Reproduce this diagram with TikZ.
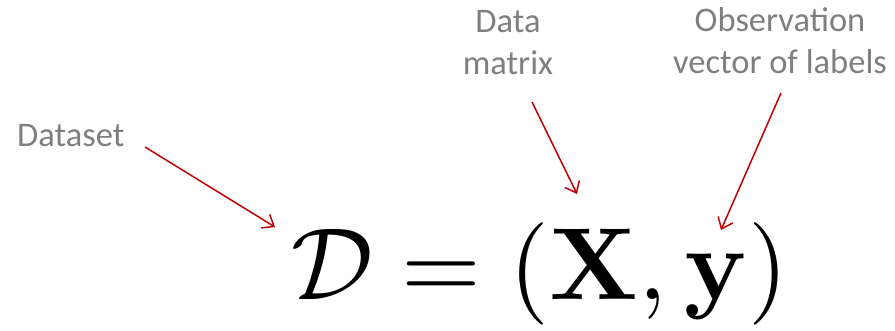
\documentclass[tikz,border=0pt]{standalone}
\usepackage{graphicx}
\usepackage[no-math]{fontspec}
\setmainfont{Carlito}
\usetikzlibrary{arrows.meta}
\definecolor{labelgray}{HTML}{7F7F7F}
\definecolor{arrowred}{HTML}{C00000}
\tikzset{
  lbl/.style={inner sep=0pt, text=labelgray, font=\fontsize{34.5}{42}\selectfont, align=center},
  ptr/.style={draw=arrowred, line width=1.5pt, -{Straight Barb[length=10pt,width=16pt,line width=1.5pt]}}
}
\begin{document}
\begin{tikzpicture}[x=1pt,y=-1pt]
\useasboundingbox (0,0) rectangle (895,331);
\node[inner sep=0pt, anchor=base west] (eq) at (291,300) {\scalebox{10.25}{$\mathcal{D} = (\mathbf{X}, \mathbf{y})$}};
\node[lbl, anchor=base west] (ds) at (17,147) {Dataset};
\node[lbl, anchor=base] (dm) at (508,75) {Data\\matrix};
\node[lbl, anchor=base] (ov) at (780,74) {Observation\\vector of labels};
\coordinate (ds1) at (145,147);
\coordinate (ds2) at (275,227);
\coordinate (dm1) at (532,102);
\coordinate (dm2) at (577,194);
\coordinate (ov1) at (781,93);
\coordinate (ov2) at (721,230);
\draw[ptr] (ds1) -- (ds2);
\draw[ptr] (dm1) -- (dm2);
\draw[ptr] (ov1) -- (ov2);
\end{tikzpicture}
\end{document}
